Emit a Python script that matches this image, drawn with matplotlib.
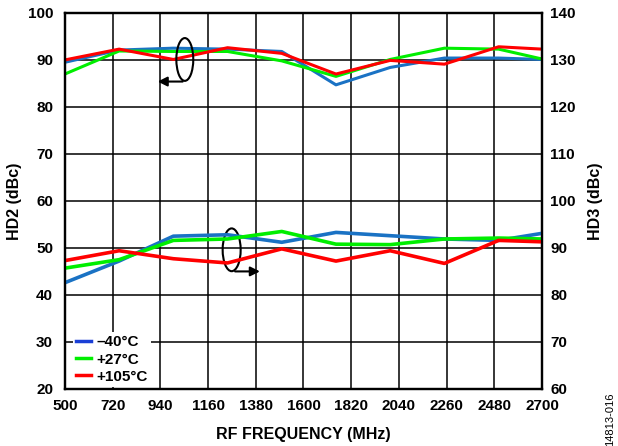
import matplotlib.pyplot as plt
from matplotlib.patches import Ellipse
from matplotlib.lines import Line2D

plt.rcParams['font.family'] = ['Liberation Sans', 'DejaVu Sans']

freq = [500, 750, 1000, 1250, 1500, 1750, 2000, 2250, 2500, 2700]

# HD2 (left axis, dBc)
hd2_m40 = [89.5, 92.1, 92.5, 92.3, 91.8, 84.7, 88.4, 90.4, 90.4, 90.1]
hd2_p27 = [87.0, 91.9, 91.8, 91.8, 89.8, 86.5, 90.1, 92.5, 92.3, 90.2]
hd2_p105 = [90.0, 92.3, 90.1, 92.6, 91.4, 87.0, 89.9, 89.1, 92.8, 92.3]

# HD3 (right axis, dBc)
hd3_m40 = [82.6, 87.2, 92.5, 92.8, 91.2, 93.3, 92.6, 91.9, 91.6, 93.1]
hd3_p27 = [85.7, 87.5, 91.6, 91.9, 93.5, 90.8, 90.7, 91.9, 92.1, 91.9]
hd3_p105 = [87.3, 89.4, 87.7, 86.8, 89.8, 87.2, 89.4, 86.7, 91.6, 91.3]

labels = ['\u201340°C', '+27°C', '+105°C']
colors = ['#1a72c4', '#00ee00', '#ff0000']
xticks = [500, 720, 940, 1160, 1380, 1600, 1820, 2040, 2260, 2480, 2700]

fig = plt.figure(figsize=(6.18, 4.46), dpi=100)
ax = fig.add_axes([0.105, 0.128, 0.772, 0.843])
ax2 = ax.twinx()

for ys, c in zip([hd2_m40, hd2_p27, hd2_p105], colors):
    ax.plot(freq, ys, color=c, lw=2.2)
for ys, c in zip([hd3_m40, hd3_p27, hd3_p105], colors):
    ax2.plot(freq, ys, color=c, lw=2.6)

ax.set_xlim(500, 2700)
ax.set_ylim(20, 100)
ax2.set_ylim(60, 140)
ax.set_xticks(xticks)
ax.set_yticks(range(20, 101, 10))
ax2.set_yticks(range(60, 141, 10))
ax.grid(True, color='black', lw=1.1)
ax.tick_params(axis='y', length=0, labelsize=11, pad=8.5)
ax.tick_params(axis='x', length=0, labelsize=11, pad=7)
ax2.tick_params(length=0, labelsize=11, pad=6)
for t in ax.get_xticklabels() + ax.get_yticklabels() + ax2.get_yticklabels():
    t.set_fontweight('bold')
for a in (ax, ax2):
    for s in a.spines.values():
        s.set_linewidth(1.6)

ax.set_xlabel('RF FREQUENCY (MHz)', fontsize=11.5, fontweight='bold', labelpad=10)
ax.set_ylabel('HD2 (dBc)', fontsize=11.5, fontweight='bold', labelpad=4)
ax2.set_ylabel('HD3 (dBc)', fontsize=11.5, fontweight='bold', labelpad=9, rotation=90)

# ellipse markers with arrows
ax.add_patch(Ellipse((1053, 90.1), 78, 9.1, fill=False, lw=1.5, color='black', zorder=5))
ax.annotate('', xy=(915, 85.4), xytext=(1056, 85.4),
            arrowprops=dict(arrowstyle='-|>', color='black', lw=1.5, mutation_scale=14), zorder=5)
ax.add_patch(Ellipse((1269, 49.6), 83, 9.1, fill=False, lw=1.5, color='black', zorder=5))
ax.annotate('', xy=(1412, 45.0), xytext=(1272, 45.0),
            arrowprops=dict(arrowstyle='-|>', color='black', lw=1.5, mutation_scale=14), zorder=5)

handles = [Line2D([0], [0], color=c, lw=2.5) for c in ['#1a3fd6', '#00ee00', '#ff0000']]
leg = ax2.legend(handles, labels, loc='lower left', bbox_to_anchor=(0.012, 0.0),
                 frameon=True, fancybox=False, edgecolor='none', framealpha=1,
                 handlelength=1.0, handletextpad=0.35, labelspacing=0.2,
                 borderpad=0.2, borderaxespad=0.15,
                 prop={'weight': 'bold', 'size': 11})

fig.text(0.988, 0.0, '14813-016', rotation=90, fontsize=8, ha='center', va='bottom')

fig.savefig('out.png', dpi=100)
